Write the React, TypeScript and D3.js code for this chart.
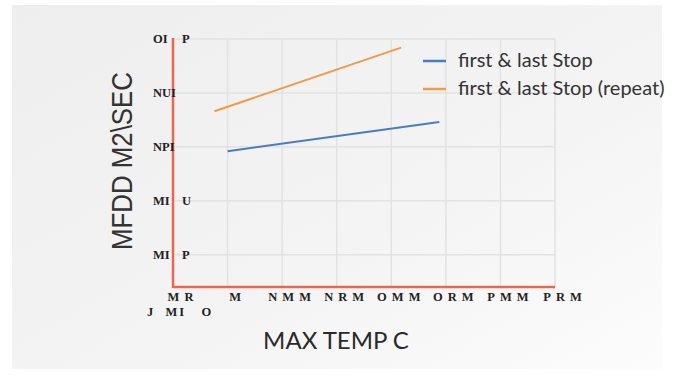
import React from "react";
import * as d3 from "d3";

const xTicks = [0, 50, 100, 150, 200, 250, 300, 350];
const xTickLabels = ["MR", "M", "NMM", "NRM", "OMM", "ORM", "PMM", "PRM"];
const yTicks = [0.3, 0.8, 1.3, 1.8, 2.3];
const yTickLabels = ["MI P", "MI U", "NPI", "NUI", "OI P"];
const extraLabel = "J MI O";

const seriesNames = ["first & last Stop", "first & last Stop (repeat)"];
const seriesColors = ["#4a7dbf", "#f39a45"];
const blueX = [50, 244];
const blueY = [1.26, 1.53];
const orangeX = [38, 209];
const orangeY = [1.63, 2.22];

const W = 675;
const H = 377;

export default function App() {
  const x = d3.scaleLinear().domain([0, 350]).range([173, 555]);
  const y = d3.scaleLinear().domain([0, 2.3]).range([287, 39]);
  const line = d3
    .line<[number, number]>()
    .x((d) => x(d[0]))
    .y((d) => y(d[1]));
  const series = [
    blueX.map((v, i) => [v, blueY[i]] as [number, number]),
    orangeX.map((v, i) => [v, orangeY[i]] as [number, number]),
  ];
  const axisColor = "#e8674f";
  const gridColor = "#e2e2e2";
  const tickFont = "'Liberation Serif', 'DejaVu Serif', serif";

  return (
    <svg
      width={W}
      height={H}
      style={{ position: "absolute", left: 0, top: 0, background: "#fff" }}
    >
      <defs>
        <linearGradient id="bg" x1="0" y1="0" x2="1" y2="1">
          <stop offset="0" stopColor="#eeeeee" />
          <stop offset="0.6" stopColor="#f4f4f4" />
          <stop offset="1" stopColor="#fcfcfc" />
        </linearGradient>
      </defs>
      <rect x={12} y={5} width={650} height={364} fill="url(#bg)" />

      {/* grid */}
      {xTicks.slice(1).map((t) => (
        <line
          key={"gx" + t}
          x1={x(t)}
          x2={x(t)}
          y1={y(2.3)}
          y2={y(0)}
          stroke={gridColor}
          strokeWidth={1.5}
        />
      ))}
      {yTicks.map((t) => (
        <line
          key={"gy" + t}
          x1={x(0)}
          x2={x(350)}
          y1={y(t)}
          y2={y(t)}
          stroke={gridColor}
          strokeWidth={1.5}
        />
      ))}

      {/* series */}
      {series.map((s, i) => (
        <path
          key={"s" + i}
          d={line(s) || ""}
          fill="none"
          stroke={seriesColors[i]}
          strokeWidth={2}
        />
      ))}

      {/* axes */}
      <line x1={x(0)} x2={x(0)} y1={y(2.3) - 1} y2={y(0) + 1} stroke={axisColor} strokeWidth={2.5} />
      <line x1={x(0)} x2={x(350)} y1={y(0)} y2={y(0)} stroke={axisColor} strokeWidth={2.5} />

      {/* y tick labels */}
      {yTicks.map((t, i) => {
        const parts = yTickLabels[i].split(" ");
        return (
          <g key={"yl" + t} fontFamily={tickFont} fontWeight="bold" fontSize={12.5} fill="#222">
            <text x={153} y={y(t) + 4}>{parts[0]}</text>
            {parts[1] && (
              <text x={182} y={y(t) + 4}>{parts[1]}</text>
            )}
          </g>
        );
      })}

      {/* x tick labels */}
      {xTicks.map((t, i) => (
        <text
          key={"xl" + t}
          x={x(t) + 10}
          y={301}
          textAnchor="middle"
          fontFamily={tickFont}
          fontWeight="bold"
          fontSize={12.5}
          letterSpacing={5}
          fill="#222"
        >
          {xTickLabels[i]}
        </text>
      ))}
      <text
        x={147}
        y={316}
        fontFamily={tickFont}
        fontWeight="bold"
        fontSize={12.5}
        fill="#222"
        style={{ whiteSpace: "pre" }}
        letterSpacing={2}
      >
        {extraLabel.replace(" ", "  ").replace("I ", "I   ")}
      </text>

      {/* legend */}
      {seriesNames.map((n, i) => (
        <g key={"lg" + i}>
          <line
            x1={423}
            x2={446}
            y1={61 + i * 28}
            y2={61 + i * 28}
            stroke={seriesColors[i]}
            strokeWidth={2.5}
          />
          <text
            x={458}
            y={67 + i * 28}
            fontFamily="Lato, 'Open Sans', sans-serif"
            fontSize={20}
            fill="#333"
          >
            {n}
          </text>
        </g>
      ))}

      {/* titles */}
      <text
        transform="translate(132,161) rotate(-90)"
        textAnchor="middle"
        fontFamily="'Liberation Sans', Arial, sans-serif"
        fontSize={29}
        textLength={178}
        lengthAdjust="spacingAndGlyphs"
        fill="#333"
      >
        MFDD M2\SEC
      </text>
      <text
        x={336}
        y={349}
        textAnchor="middle"
        fontFamily="Lato, 'Open Sans', sans-serif"
        fontSize={24}
        fill="#2a2a2a"
      >
        MAX TEMP C
      </text>
    </svg>
  );
}
